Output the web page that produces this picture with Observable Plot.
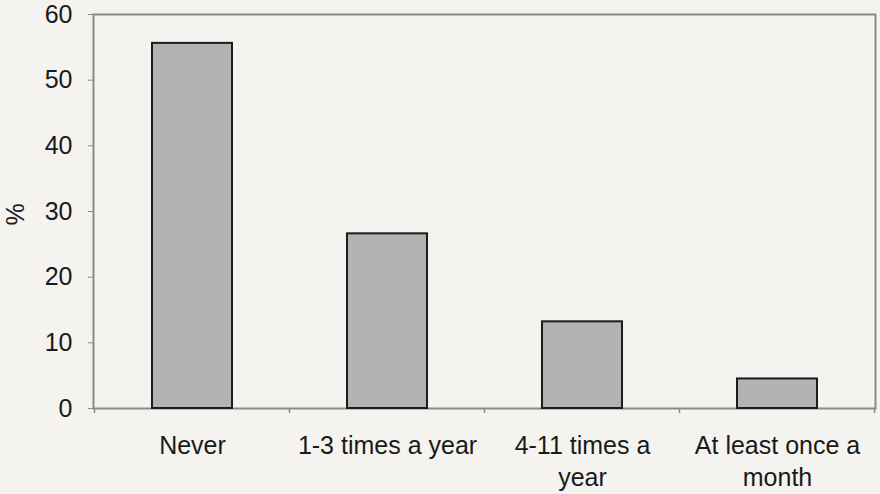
<!DOCTYPE html>
<html>
<head>
<meta charset="utf-8">
<script src="https://cdn.jsdelivr.net/npm/d3@7"></script>
<script src="https://cdn.jsdelivr.net/npm/@observablehq/plot@0.6"></script>
<style>
  html, body { margin: 0; padding: 0; background: #f4f3ef; }
  svg { display: block; }
</style>
</head>
<body>
<div id="chart"></div>
<script>
const categories = ["Never", "1-3 times a year", "4-11 times a year", "At least once a month"];
const tickLabels = ["Never", "1-3 times a year", "4-11 times a\nyear", "At least once a\nmonth"];
const values = [55.6, 26.6, 13.2, 4.5];
const yTicks = [0, 10, 20, 30, 40, 50, 60];

const data = categories.map((c, i) => ({category: c, value: values[i]}));

// Excel-style boundary tick marks on the category axis
function boundaryTicks(index, scales, channels, dims) {
  const x = scales.x, bw = x.bandwidth(), step = x.step();
  const y0 = dims.height - dims.marginBottom;
  const g = document.createElementNS("http://www.w3.org/2000/svg", "g");
  const positions = categories.map(c => x(c) + bw / 2 - step / 2);
  positions.push(x(categories[categories.length - 1]) + bw / 2 + step / 2);
  for (const px of positions) {
    const l = document.createElementNS("http://www.w3.org/2000/svg", "line");
    l.setAttribute("x1", px); l.setAttribute("x2", px);
    l.setAttribute("y1", y0); l.setAttribute("y2", y0 + 5);
    l.setAttribute("stroke", "#8a8a8a");
    l.setAttribute("stroke-width", 1.5);
    g.appendChild(l);
  }
  return g;
}

const chart = Plot.plot({
  width: 880,
  height: 494,
  marginLeft: 93,
  marginRight: 5,
  marginTop: 14,
  marginBottom: 86,
  style: {background: "#f4f3ef", fontFamily: "'Liberation Sans', Arial, sans-serif", color: "#1a1a1a"},
  x: {domain: categories, paddingInner: 0.59, paddingOuter: 0.295, label: null},
  y: {domain: [0, 60], ticks: yTicks, label: null},
  marks: [
    Plot.frame({stroke: "#8a8a8a", strokeWidth: 2}),
    Plot.barY(data, {x: "category", y: "value", fill: "#b3b3b3", stroke: "#1c1c1c", strokeWidth: 2}),
    Plot.axisY({ticks: yTicks, tickSize: 5, tickPadding: 16, fontSize: 25, stroke: "#8a8a8a", label: null}),
    Plot.axisX({tickSize: 0, tickPadding: 23, fontSize: 25, lineHeight: 1.28,
      tickFormat: (d) => tickLabels[categories.indexOf(d)], label: null}),
    boundaryTicks,
    Plot.text(["%"], {frameAnchor: "left", dx: -78, dy: 14, rotate: -90, fontSize: 25})
  ]
});
document.getElementById("chart").appendChild(chart);
</script>
</body>
</html>
